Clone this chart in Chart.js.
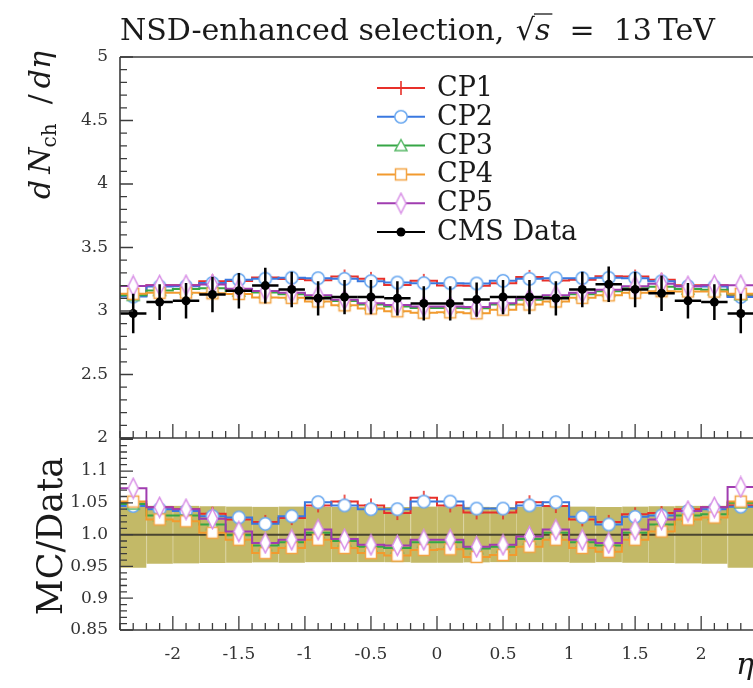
<!DOCTYPE html>
<html>
<head>
<meta charset="utf-8">
<script src="https://cdn.jsdelivr.net/npm/chart.js@4.4.1/dist/chart.umd.min.js"></script>
<style>
  html, body { margin: 0; padding: 0; background: #fff; overflow: hidden; width: 753px; height: 688px; }
  #wrap { position: relative; width: 800px; height: 688px; }
</style>
</head>
<body>
<div id="wrap"><canvas id="chart" width="800" height="688"></canvas></div>
<script>
const SERIF = "'DejaVu Serif', serif";

// bins in eta
const binEdges = [-2.4, -2.2, -2.0, -1.8, -1.6, -1.4, -1.2, -1.0, -0.8, -0.6, -0.4, -0.2, 0.0,
                  0.2, 0.4, 0.6, 0.8, 1.0, 1.2, 1.4, 1.6, 1.8, 2.0, 2.2, 2.4];

// CMS data dN/deta and its uncertainty
const cmsData = [2.98, 3.07, 3.08, 3.13, 3.16, 3.20, 3.17, 3.10, 3.11, 3.11, 3.10, 3.06,
                 3.06, 3.09, 3.11, 3.11, 3.10, 3.17, 3.21, 3.17, 3.14, 3.08, 3.07, 2.98];
const cmsErr = [0.155, 0.14, 0.14, 0.14, 0.14, 0.14, 0.14, 0.135, 0.135, 0.135, 0.135, 0.135,
                0.135, 0.135, 0.135, 0.135, 0.135, 0.14, 0.14, 0.14, 0.14, 0.14, 0.14, 0.155];

// MC / Data for each tune
const ratioCP1 = [1.047, 1.043, 1.040, 1.033, 1.024, 1.020, 1.026, 1.046, 1.052, 1.046, 1.034, 1.058,
                  1.046, 1.035, 1.035, 1.051, 1.045, 1.024, 1.020, 1.032, 1.034, 1.040, 1.043, 1.046];
const ratioCP2 = [1.045, 1.040, 1.037, 1.029, 1.027, 1.017, 1.029, 1.051, 1.046, 1.040, 1.040, 1.052,
                  1.052, 1.041, 1.041, 1.046, 1.051, 1.028, 1.016, 1.028, 1.030, 1.037, 1.040, 1.044];
const ratioCP3 = [1.048, 1.030, 1.030, 1.016, 0.999, 0.983, 0.988, 1.003, 0.990, 0.981, 0.979, 0.988,
                  0.988, 0.978, 0.981, 0.993, 1.003, 0.988, 0.983, 1.003, 1.016, 1.030, 1.032, 1.050];
const ratioCP4 = [1.052, 1.024, 1.021, 1.003, 0.992, 0.971, 0.979, 0.992, 0.979, 0.971, 0.967, 0.976,
                  0.977, 0.965, 0.968, 0.981, 0.992, 0.979, 0.973, 0.992, 1.005, 1.024, 1.027, 1.052];
const ratioCP5 = [1.073, 1.043, 1.040, 1.025, 1.005, 0.987, 0.992, 1.008, 0.993, 0.984, 0.983, 0.992,
                  0.992, 0.981, 0.984, 0.997, 1.008, 0.992, 0.987, 1.008, 1.024, 1.037, 1.043, 1.075];

// ticks
const xTicks = [-2, -1.5, -1, -0.5, 0, 0.5, 1, 1.5, 2];
const xTickLabels = ['-2', '-1.5', '-1', '-0.5', '0', '0.5', '1', '1.5', '2'];
const yTicksTop = [2, 2.5, 3, 3.5, 4, 4.5, 5];
const yTickLabelsTop = ['2', '2.5', '3', '3.5', '4', '4.5', '5'];
const yTicksRatio = [0.85, 0.9, 0.95, 1.0, 1.05, 1.1];
const yTickLabelsRatio = ['0.85', '0.9', '0.95', '1.0', '1.05', '1.1'];

const centers = binEdges.slice(0, -1).map((e, i) => (e + binEdges[i + 1]) / 2);

// markers as small canvases (rivet style: white filled, coloured outline)
function makeMarker(kind, color) {
    const c = document.createElement('canvas');
    let w = 16, h = 16;
    if (kind === 'diamond') { w = 13; h = 23; }
    c.width = w; c.height = h;
    const g = c.getContext('2d');
    g.lineWidth = 1.5;
    g.strokeStyle = color;
    g.fillStyle = '#fff';
    g.beginPath();
    if (kind === 'circle') {
        g.arc(w / 2, h / 2, 6.2, 0, Math.PI * 2);
    } else if (kind === 'triangle') {
        g.moveTo(w / 2, 2); g.lineTo(w - 2, h - 3); g.lineTo(2, h - 3); g.closePath();
    } else if (kind === 'square') {
        g.rect(2.5, 2.5, w - 5, h - 5);
    } else if (kind === 'diamond') {
        g.moveTo(w / 2, 1.5); g.lineTo(w - 1.5, h / 2); g.lineTo(w / 2, h - 1.5); g.lineTo(1.5, h / 2); g.closePath();
    }
    if (kind === 'cross') {
        g.lineWidth = 1.6;
        g.moveTo(w / 2, 1); g.lineTo(w / 2, h - 1);
        g.moveTo(1, h / 2); g.lineTo(w - 1, h / 2);
        g.stroke();
    } else {
        g.fill(); g.stroke();
    }
    return c;
}

const tunes = [
    { name: 'CP1', ratio: ratioCP1, line: '#e8302a', mark: makeMarker('cross', '#e8302a') },
    { name: 'CP2', ratio: ratioCP2, line: '#3a78e0', mark: makeMarker('circle', '#6aa8f0') },
    { name: 'CP3', ratio: ratioCP3, line: '#36a646', mark: makeMarker('triangle', '#55b865') },
    { name: 'CP4', ratio: ratioCP4, line: '#f29a2e', mark: makeMarker('square', '#f3a444') },
    { name: 'CP5', ratio: ratioCP5, line: '#a03cb0', mark: makeMarker('diamond', '#d88ee6') }
];

function stepPoints(vals) {
    const pts = [];
    vals.forEach((v, i) => { pts.push({ x: binEdges[i], y: v }, { x: binEdges[i + 1], y: v }); });
    return pts;
}
function centerPoints(vals) {
    return vals.map((v, i) => ({ x: centers[i], y: v }));
}

const datasets = [];

// data on top
datasets.push({
    type: 'line', label: 'CMS Data', yAxisID: 'y', order: 0,
    data: centerPoints(cmsData), showLine: false,
    pointRadius: 4.5, pointBackgroundColor: '#000', pointBorderWidth: 0
});

// data uncertainty band and unit line in the ratio panel
datasets.push({
    type: 'bar', yAxisID: 'y2', order: 100,
    data: centers.map((c, i) => ({ x: c, y: [1 - cmsErr[i] / cmsData[i], 1 + cmsErr[i] / cmsData[i]] })),
    backgroundColor: '#c3b967', borderColor: '#d7cf97',
    borderWidth: { left: 1, right: 0, top: 0, bottom: 0 }, borderSkipped: false,
    barPercentage: 1, categoryPercentage: 1
});
datasets.push({
    type: 'line', yAxisID: 'y2', order: 90,
    data: stepPoints(cmsData.map(v => v / v)),
    borderColor: '#4a4630', borderWidth: 2, pointRadius: 0, tension: 0
});

tunes.forEach((t, k) => {
    const top = t.ratio.map((r, i) => r * cmsData[i]);
    const o = 60 - k * 10;
    datasets.push({ type: 'line', label: t.name, yAxisID: 'y', order: o, data: stepPoints(top),
        borderColor: t.line, borderWidth: 2, pointRadius: 0, tension: 0 });
    datasets.push({ type: 'line', yAxisID: 'y', order: o - 1, data: centerPoints(top), showLine: false,
        pointStyle: t.mark, pointRadius: 7 });
    datasets.push({ type: 'line', yAxisID: 'y2', order: o, data: stepPoints(t.ratio),
        borderColor: t.line, borderWidth: 2, pointRadius: 0, tension: 0 });
    datasets.push({ type: 'line', yAxisID: 'y2', order: o - 1, data: centerPoints(t.ratio), showLine: false,
        pointStyle: t.mark, pointRadius: 7 });
});

// error bars of the data points
const errorBars = {
    id: 'errorBars',
    afterDatasetsDraw(chart) {
        const { ctx, scales: { x, y } } = chart;
        ctx.save();
        ctx.strokeStyle = '#000';
        ctx.lineWidth = 2.5;
        cmsData.forEach((v, i) => {
            const px = x.getPixelForValue(centers[i]);
            const py = y.getPixelForValue(v);
            ctx.beginPath();
            ctx.moveTo(px, y.getPixelForValue(v - cmsErr[i]));
            ctx.lineTo(px, y.getPixelForValue(v + cmsErr[i]));
            ctx.moveTo(x.getPixelForValue(binEdges[i]), py);
            ctx.lineTo(x.getPixelForValue(binEdges[i + 1]), py);
            ctx.stroke();
        });
        ctx.restore();
    }
};

// frame, inside ticks, titles and legend
const decor = {
    id: 'decor',
    afterDraw(chart) {
        const { ctx, scales: { x, y, y2 } } = chart;
        const L = x.left, R = x.right;
        ctx.save();
        ctx.strokeStyle = '#3c3c3c';
        ctx.lineWidth = 1.6;
        ctx.beginPath();
        ctx.moveTo(L, y.top); ctx.lineTo(R, y.top);
        ctx.moveTo(L, y.bottom); ctx.lineTo(R, y.bottom);
        ctx.moveTo(L, y2.bottom); ctx.lineTo(R, y2.bottom);
        ctx.moveTo(L, y.top); ctx.lineTo(L, y2.bottom);
        ctx.moveTo(R, y.top); ctx.lineTo(R, y2.bottom);
        ctx.stroke();

        ctx.lineWidth = 1.3;
        ctx.beginPath();
        for (let k = 20; k <= 50; k++) {
            const py = y.getPixelForValue(k / 10);
            const len = k % 5 === 0 ? 13 : 7;
            ctx.moveTo(L, py); ctx.lineTo(L + len, py);
        }
        for (let k = 85; k <= 115; k++) {
            const v = k / 100;
            if (v > y2.max) break;
            const py = y2.getPixelForValue(v);
            const len = k % 5 === 0 ? 13 : 7;
            ctx.moveTo(L, py); ctx.lineTo(L + len, py);
        }
        for (let k = -24; k <= 24; k++) {
            const px = x.getPixelForValue(k / 10);
            const len = k % 5 === 0 ? 14 : 7;
            ctx.moveTo(px, y.bottom); ctx.lineTo(px, y.bottom - len);
            ctx.moveTo(px, y2.bottom); ctx.lineTo(px, y2.bottom - len);
        }
        ctx.stroke();

        // title
        ctx.fillStyle = '#1a1a1a';
        ctx.textBaseline = 'alphabetic';
        ctx.textAlign = 'left';
        let tx = L, ty = 40;
        ctx.font = `30px ${SERIF}`;
        ctx.fillText('NSD-enhanced selection, ', tx, ty);
        tx += ctx.measureText('NSD-enhanced selection, ').width + 2;
        ctx.fillText('\u221A', tx, ty);
        tx += ctx.measureText('\u221A').width;
        ctx.font = `italic 30px ${SERIF}`;
        ctx.fillText('s', tx, ty);
        const sw = ctx.measureText('s').width;
        ctx.lineWidth = 1.3;
        ctx.beginPath();
        ctx.moveTo(tx - 1, ty - 26); ctx.lineTo(tx + sw + 2, ty - 26);
        ctx.strokeStyle = '#1a1a1a';
        ctx.stroke();
        tx += sw;
        ctx.font = `30px ${SERIF}`;
        ctx.fillText('  =  13\u2009TeV', tx, ty);

        // y title of the top panel, aligned to the top
        ctx.save();
        ctx.translate(50, y.top - 6);
        ctx.rotate(-Math.PI / 2);
        const parts = [
            { t: 'd\u2009', f: `italic 30px ${SERIF}`, dy: 0 },
            { t: 'N', f: `italic 30px ${SERIF}`, dy: 0 },
            { t: 'ch', f: `20px ${SERIF}`, dy: 6 },
            { t: '  /\u2009', f: `30px ${SERIF}`, dy: 0 },
            { t: 'd\u03B7', f: `italic 30px ${SERIF}`, dy: 0 }
        ];
        let total = 0;
        parts.forEach(p => { ctx.font = p.f; p.w = ctx.measureText(p.t).width; total += p.w; });
        let px = -total;
        parts.forEach(p => { ctx.font = p.f; ctx.fillText(p.t, px, p.dy); px += p.w; });
        ctx.restore();

        // y title of the ratio panel
        ctx.save();
        ctx.translate(62, (y2.top + y2.bottom) / 2 + 2);
        ctx.rotate(-Math.PI / 2);
        ctx.textAlign = 'center';
        ctx.font = `35px ${SERIF}`;
        ctx.fillText('MC/Data', 0, 0);
        ctx.restore();

        // x title
        ctx.font = `italic 30px ${SERIF}`;
        ctx.textAlign = 'left';
        ctx.fillText('\u03B7', 736, 674);

        // legend
        const lx0 = 377, lx1 = 425, ltx = 437;
        const rowY = i => 88 + i * 28.8;
        ctx.font = `27px ${SERIF}`;
        ctx.textBaseline = 'middle';
        tunes.forEach((t, i) => {
            const ly = rowY(i);
            ctx.strokeStyle = t.line;
            ctx.lineWidth = 2;
            ctx.beginPath(); ctx.moveTo(lx0, ly); ctx.lineTo(lx1, ly); ctx.stroke();
            ctx.drawImage(t.mark, (lx0 + lx1) / 2 - t.mark.width / 2, ly - t.mark.height / 2);
            ctx.fillStyle = '#1a1a1a';
            ctx.fillText(t.name, ltx, ly + 1);
        });
        const ly = rowY(tunes.length);
        ctx.strokeStyle = '#000';
        ctx.lineWidth = 2;
        ctx.beginPath(); ctx.moveTo(lx0, ly); ctx.lineTo(lx1, ly); ctx.stroke();
        ctx.fillStyle = '#000';
        ctx.beginPath(); ctx.arc((lx0 + lx1) / 2, ly, 4.5, 0, Math.PI * 2); ctx.fill();
        ctx.fillStyle = '#1a1a1a';
        ctx.fillText('CMS Data', ltx, ly + 1);
        ctx.restore();
    }
};

const tickFont = { family: SERIF, size: 17 };

new Chart(document.getElementById('chart'), {
    type: 'line',
    data: { datasets },
    options: {
        responsive: false,
        animation: false,
        events: [],
        layout: { padding: { top: 57, right: 46, left: 0, bottom: 0 } },
        plugins: { legend: { display: false }, tooltip: { enabled: false } },
        scales: {
            x: {
                type: 'linear', min: -2.4, max: 2.4, offset: false,
                grid: { display: false, drawTicks: false }, border: { display: false },
                afterBuildTicks: s => { s.ticks = xTicks.map(v => ({ value: v })); },
                afterFit: s => { s.height = 58; },
                ticks: { autoSkip: false, maxRotation: 0, padding: 14, color: '#333', font: tickFont,
                         callback: (v, i) => xTickLabels[i] }
            },
            // left boxes are stacked in reverse order, so the ratio axis comes first
            y2: {
                type: 'linear', position: 'left', stack: 'panels', stackWeight: 192,
                min: 0.85, max: 1.152, offset: false,
                grid: { display: false, drawTicks: false }, border: { display: false },
                afterBuildTicks: s => { s.ticks = yTicksRatio.map(v => ({ value: v })); },
                afterFit: s => { s.width = 120; },
                ticks: { autoSkip: false, padding: 12, color: '#333', font: tickFont,
                         callback: (v, i) => yTickLabelsRatio[i] }
            },
            y: {
                type: 'linear', position: 'left', stack: 'panels', stackWeight: 381,
                min: 2, max: 5, offset: false,
                grid: { display: false, drawTicks: false }, border: { display: false },
                afterBuildTicks: s => { s.ticks = yTicksTop.map(v => ({ value: v })); },
                afterFit: s => { s.width = 120; },
                ticks: { autoSkip: false, padding: 12, color: '#333', font: tickFont,
                         callback: (v, i) => yTickLabelsTop[i] }
            }
        }
    },
    plugins: [errorBars, decor]
});
</script>
</body>
</html>
